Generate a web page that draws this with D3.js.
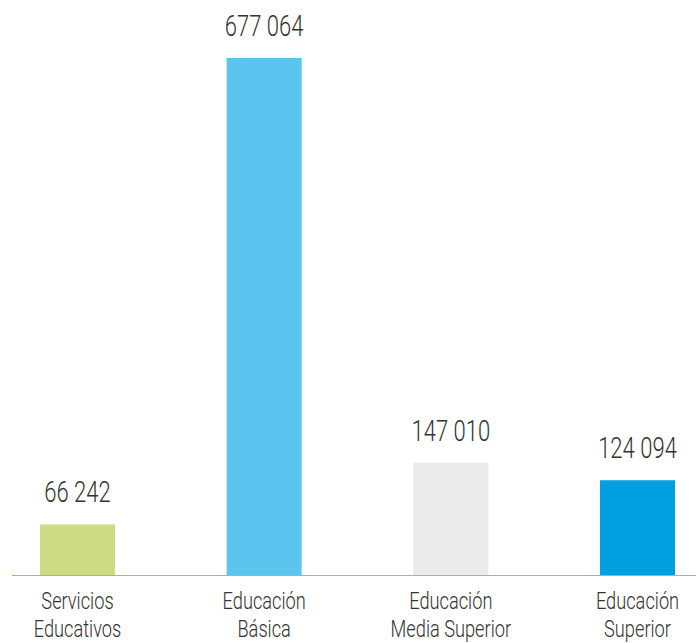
<!DOCTYPE html>
<html>
<head>
<meta charset="utf-8">
<script src="https://cdn.jsdelivr.net/npm/d3@7.9.0/dist/d3.min.js"></script>
<style>
  html, body { margin: 0; padding: 0; background: #fff; }
  svg text { font-family: Roboto, "Noto Sans", sans-serif; fill: #333; }
</style>
</head>
<body>
<svg id="chart" width="696" height="643"></svg>
<script>
// values
const categories = ['Servicios Educativos', 'Educación Básica', 'Educación Media Superior', 'Educación Superior'];
const labelLines = [['Servicios', 'Educativos'], ['Educación', 'Básica'], ['Educación', 'Media Superior'], ['Educación', 'Superior']];
const values = [66242, 677064, 147010, 124094];
const colors = ['#cddc84', '#5bc5ef', '#ebebeb', '#009fdf'];

const svg = d3.select('#chart');
const baseY = 575;
const barW = 75;
const squeeze = 0.76; // fake a condensed face

const x = d3.scalePoint().domain(categories).range([77.5, 637.5]);
const y = d3.scaleLinear().domain([0, 677064]).range([baseY, 58]);

const fmt = v => d3.format(',')(v).replace(/,/g, ' ');

const data = categories.map((c, i) => ({ c, v: values[i], color: colors[i], lines: labelLines[i] }));

svg.selectAll('rect.bar').data(data).join('rect')
  .attr('class', 'bar')
  .attr('x', d => x(d.c) - barW / 2)
  .attr('y', d => y(d.v))
  .attr('width', barW)
  .attr('height', d => baseY - y(d.v))
  .attr('fill', d => d.color);

// baseline
svg.append('line')
  .attr('x1', 12).attr('x2', 696)
  .attr('y1', baseY + 0.5).attr('y2', baseY + 0.5)
  .attr('stroke', '#a9c53f').attr('stroke-width', 1.2);

// value labels
svg.selectAll('text.val').data(data).join('text')
  .attr('class', 'val')
  .attr('text-anchor', 'middle')
  .attr('font-size', 29)
  .attr('font-weight', 300)
  .attr('transform', d => `translate(${x(d.c)},${y(d.v) - 22}) scale(${squeeze},1)`)
  .text(d => fmt(d.v));

// category labels
const cat = svg.selectAll('g.cat').data(data).join('g')
  .attr('class', 'cat')
  .attr('transform', d => `translate(${x(d.c)},0)`);
cat.selectAll('text').data(d => d.lines).join('text')
  .attr('text-anchor', 'middle')
  .attr('font-size', 24)
  .attr('font-weight', 300)
  .attr('transform', (t, i) => `translate(0,${609 + i * 28}) scale(${squeeze},1)`)
  .text(t => t);
</script>
</body>
</html>
